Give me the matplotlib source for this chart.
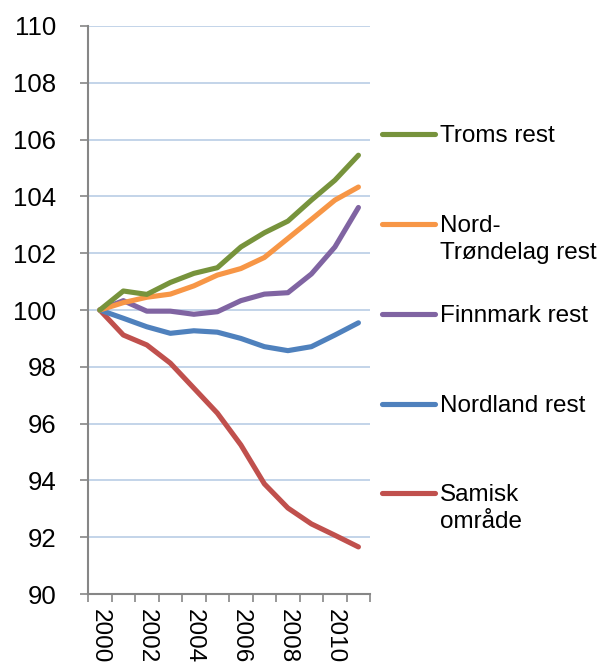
import numpy as np
import matplotlib
matplotlib.use('Agg')
import matplotlib.pyplot as plt
from matplotlib.lines import Line2D

plt.rcParams['font.family'] = ['Liberation Sans', 'DejaVu Sans']

years = list(range(2000, 2012))
year_labels = ['2000', '', '2002', '', '2004', '', '2006', '', '2008', '', '2010', '']

samisk = [100, 99.12, 98.77, 98.13, 97.25, 96.37, 95.25, 93.88, 93.03, 92.47, 92.07, 91.66]
nordland = [100, 99.71, 99.41, 99.18, 99.27, 99.22, 99.00, 98.71, 98.57, 98.71, 99.12, 99.55]
finnmark = [100, 100.33, 99.96, 99.96, 99.85, 99.94, 100.33, 100.56, 100.61, 101.27, 102.22, 103.61]
trondelag = [100, 100.26, 100.45, 100.56, 100.85, 101.23, 101.46, 101.85, 102.52, 103.19, 103.87, 104.33]
troms = [100, 100.67, 100.55, 100.97, 101.29, 101.49, 102.22, 102.72, 103.13, 103.87, 104.57, 105.45]

series_names = ['Troms rest', 'Nord-\nTrøndelag rest', 'Finnmark rest', 'Nordland rest', 'Samisk\nområde']
series_values = [troms, trondelag, finnmark, nordland, samisk]
series_colors = ['#77933C', '#F79646', '#8064A2', '#4F81BD', '#C0504D']

fig = plt.figure(figsize=(5.99, 6.66), dpi=100)
ax = fig.add_axes([0.147, 0.108, 0.471, 0.853])

x = np.arange(len(years))
for vals, col in zip(series_values[::-1], series_colors[::-1]):
    ax.plot(x, vals, color=col, lw=3.7, solid_joinstyle='round', solid_capstyle='round', zorder=3)

ax.set_xlim(-0.5, len(years) - 0.5)
ax.set_ylim(90, 110)
ax.set_yticks(np.arange(90, 111, 2))
ax.grid(axis='y', color='#B9CDE5', lw=1.2, zorder=0)

ax.set_xticks(x)
ax.set_xticklabels(year_labels, rotation=-90, va='top', ha='center')
ax.set_xticks(np.arange(-0.5, len(years), 1), minor=True)
ax.tick_params(axis='x', which='major', length=0, pad=11, labelsize=17.5)
ax.tick_params(axis='x', which='minor', length=6, width=1.2, color='#868686', direction='out')
ax.tick_params(axis='y', length=6, width=1.2, color='#868686', labelsize=18.5, pad=17)

for side in ['top', 'right']:
    ax.spines[side].set_visible(False)
for side in ['left', 'bottom']:
    ax.spines[side].set_color('#868686')
    ax.spines[side].set_linewidth(1.5)

# legend drawn by hand, handle aligned with first text line
legend_y = [134, 224, 314, 404, 493]
for name, col, yp in zip(series_names, series_colors, legend_y):
    fy = 1 - yp / 666
    fig.add_artist(Line2D([382 / 599, 435 / 599], [fy, fy], color=col, lw=3.7,
                          solid_capstyle='round'))
    fig.text(440 / 599, fy + 9 / 666, name, fontsize=17.5, va='top', ha='left',
             linespacing=1.27)

fig.savefig('out.png', dpi=100)
